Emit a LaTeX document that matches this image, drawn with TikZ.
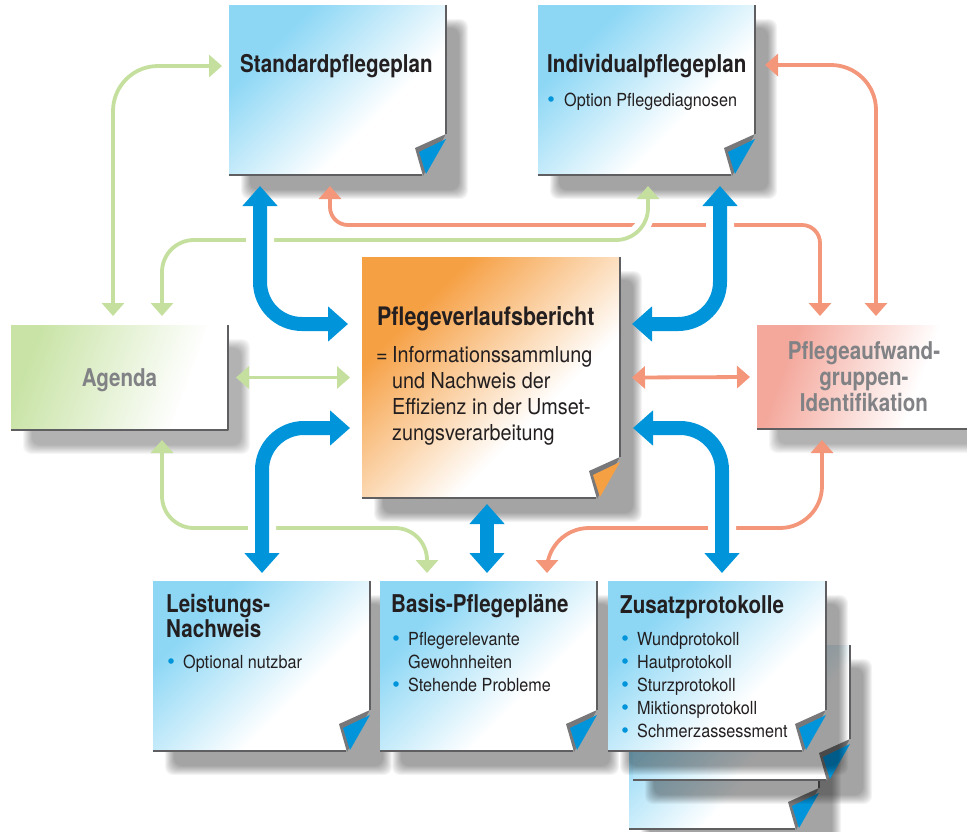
\documentclass[tikz,border=0pt]{standalone}
\usepackage{fontspec}
\setmainfont{TeX Gyre Heros}
\newfontfamily\titlefont{TeX Gyre Heros}[FakeStretch=0.84]
\newfontfamily\bodyfont{TeX Gyre Heros}[FakeStretch=0.9]
\usetikzlibrary{arrows.meta,calc}

\definecolor{arrowblue}{RGB}{0,149,218}
\definecolor{paperblue}{RGB}{141,215,245}
\definecolor{orangefill}{RGB}{246,160,68}
\definecolor{greenfill}{RGB}{200,227,165}
\definecolor{redfill}{RGB}{244,168,156}
\definecolor{greenline}{RGB}{197,224,158}
\definecolor{orangeline}{RGB}{243,150,122}
\definecolor{textgray}{RGB}{128,130,133}
\definecolor{textblack}{RGB}{35,31,32}
\definecolor{rimgray}{RGB}{95,95,97}
\definecolor{foldgray}{RGB}{120,120,122}

\pgfdeclarehorizontalshading{bluepaper}{100bp}{color(0bp)=(paperblue); color(30bp)=(paperblue); color(62bp)=(white); color(100bp)=(white)}
\pgfdeclarehorizontalshading{orangepaper}{100bp}{color(0bp)=(orangefill); color(30bp)=(orangefill); color(62bp)=(white); color(100bp)=(white)}
\pgfdeclarehorizontalshading{greenpaper}{100bp}{color(0bp)=(greenfill); color(25bp)=(greenfill); color(68bp)=(white); color(100bp)=(white)}
\pgfdeclarehorizontalshading{redpaper}{100bp}{color(0bp)=(redfill); color(28bp)=(redfill); color(62bp)=(white); color(100bp)=(white)}

% Blatt mit Schatten und Eselsohr
\newcommand\drawsheet[3]{%
  \foreach \s in {0,...,9}
    \fill[black, opacity=0.045, rounded corners=8] ($(#1.north west)+(12+\s,14+\s)$) rectangle ($(#1.south east)+(22-\s,24-\s)$);
  \shade[shading=#2, shading angle=-45] (#1.north west) -- (#1.north east) -- ($(#1.south east)+(0,-41)$) -- ($(#1.south east)+(-24,0)$) -- (#1.south west) -- cycle;
  \draw[rim] (#1.south west) -- ($(#1.south east)+(-24,0)$);
  \draw[rim] (#1.north east) -- ($(#1.south east)+(0,-41)$);
  \fill[foldgray] ($(#1.south east)+(0,-41)$) -- ($(#1.south east)+(-31,-27)$) -- ($(#1.south east)+(-23,1)$) -- cycle;
  \fill[#3] ($(#1.south east)+(0,-36)$) -- ($(#1.south east)+(-27,-23)$) -- ($(#1.south east)+(-20,-1)$) -- cycle;
}
% Kasten ohne Eselsohr
\newcommand\drawbanner[2]{%
  \foreach \s in {0,...,9}
    \fill[black, opacity=0.035, rounded corners=8] ($(#1.north west)+(12+\s,14+\s)$) rectangle ($(#1.south east)+(22-\s,24-\s)$);
  \shade[shading=#2, shading angle=-20] (#1.north west) rectangle (#1.south east);
  \draw[rim] (#1.south west) -- (#1.south east) -- (#1.north east);
}

\begin{document}
\begin{tikzpicture}[x=1pt, y=-1pt, line join=round, line cap=round,
  sheet/.style 2 args={minimum width=#1pt, minimum height=#2pt, inner sep=0pt, outer sep=0pt, anchor=north west},
  rim/.style={draw=rimgray, line width=2pt, line cap=butt},
  title/.style={font=\titlefont\bfseries\fontsize{24.5}{25}\selectfont, text=textblack, inner sep=0pt},
  body/.style={font=\bodyfont\fontsize{18}{23}\selectfont, text=textblack, inner sep=0pt},
  bigbody/.style={font=\bodyfont\fontsize{22}{26}\selectfont, text=textblack, inner sep=0pt},
  bluearrow/.style={draw=arrowblue, line width=14pt, rounded corners=42, >={Triangle[width=34pt,length=20pt]}, <->,
    preaction={draw=white, line width=28pt, -, line cap=butt, shorten <=22pt, shorten >=22pt}},
  greenarrow/.style={draw=greenline, line width=3.8pt, >={Triangle[width=22pt,length=13pt]}, <->},
  orangearrow/.style={draw=orangeline, line width=3.8pt, >={Triangle[width=22pt,length=13pt]}, <->},
  bullet/.style={fill=arrowblue}]
\useasboundingbox (0,0) rectangle (967,831);
\clip (0,0) rectangle (967,831);

% Kaesten
\node[sheet={217}{170}] (std) at (229,5) {};
\node[sheet={217}{170}] (ind) at (538,5) {};
\node[sheet={258}{241}] (pvb) at (362,257) {};
\node[sheet={217}{105}] (age) at (11,325) {};
\node[sheet={230}{104}] (pag) at (757,325) {};
\node[sheet={217}{170}] (lei) at (153,581) {};
\node[sheet={217}{170}] (bas) at (380,581) {};
\node[sheet={190}{170}] (zus3) at (629,659) {};
\node[sheet={217}{135}] (zus2) at (633,645) {};
\node[sheet={218}{170}] (zus) at (608,581) {};

\drawsheet{std}{bluepaper}{arrowblue}
\drawsheet{ind}{bluepaper}{arrowblue}
\drawsheet{pvb}{orangepaper}{orangefill}
\drawbanner{age}{greenpaper}
\drawbanner{pag}{redpaper}
\drawsheet{lei}{bluepaper}{arrowblue}
\drawsheet{bas}{bluepaper}{arrowblue}
\drawsheet{zus3}{bluepaper}{arrowblue}
\drawsheet{zus2}{bluepaper}{arrowblue}
\drawsheet{zus}{bluepaper}{arrowblue}

% Texte
\node[title, anchor=base west] (stdtitle) at (240,72.5) {Standardpflegeplan};
\node[title, anchor=base west] (indtitle) at (547,72.5) {Individualpflegeplan};
\fill[bullet] (551,99) circle (2.8);
\node[body, anchor=base west] (inditem) at (564,106) {Option Pflegediagnosen};

\node[title, anchor=base west, font=\titlefont\bfseries\fontsize{25.5}{26}\selectfont] (pvbtitle) at (377,325) {Pflegeverlaufsbericht};
\node[bigbody, anchor=base west] (pvbeq) at (376,362) {=};
\foreach \txt [count=\i] in {Informationssammlung,und Nachweis der,Effizienz in der Umset-,zungsverarbeitung}
  \node[bigbody, anchor=base west] (pvbline\i) at (392,{362+26*(\i-1)}) {\txt};

\node[title, text=textgray, anchor=base] (agetitle) at (119.5,386) {Agenda};
\node[title, text=textgray, align=center, font=\titlefont\bfseries\fontsize{24.5}{26}\selectfont] (pagtitle) at (864,377) {Pflegeaufwand-\\gruppen-\\Identifikation};

\node[title, anchor=base west, align=left] (leititle) at (166,637) {Leistungs-\\Nachweis};
\fill[bullet] (171,661) circle (2.8);
\node[body, anchor=base west] (leiitem) at (183,668) {Optional nutzbar};

\node[title, anchor=base west] (bastitle) at (391,612) {Basis-Pflegepläne};
\fill[bullet] (396,638) circle (2.8);
\node[body, anchor=base west] (basitem1) at (408,645) {Pflegerelevante};
\node[body, anchor=base west] (basitem2) at (408,668) {Gewohnheiten};
\fill[bullet] (396,684) circle (2.8);
\node[body, anchor=base west] (basitem3) at (408,691) {Stehende Probleme};

\node[title, anchor=base west] (zustitle) at (620,613) {Zusatzprotokolle};
\foreach \txt [count=\i] in {Wundprotokoll,Hautprotokoll,Sturzprotokoll,Miktionsprotokoll,Schmerzassessment}{
  \fill[bullet] (625,{638+23*(\i-1)}) circle (2.8);
  \node[body, anchor=base west] (zusitem\i) at (637,{645+23*(\i-1)}) {\txt};
}

% orange Verbindungen
\draw[orangearrow, rounded corners=45] ($(ind.north east)+(10,60)$) -| ($(pag.north west)+(119,-9)$);
\draw[orangearrow] ($(std.south west)+(101,11)$) [rounded corners=18] |- ($(pag.north west)+(63,-100)$) [rounded corners=45] -- ($(pag.north west)+(63,-9)$);
\draw[orangearrow] ($(pvb.east)+(12,0)$) -- ($(pag.west)+(-7,0)$);
\draw[orangearrow] ($(pag.south west)+(65,11)$) [rounded corners=42] |- ($(bas.north west)+(167,-53)$) [rounded corners=20] -- ($(bas.north west)+(167,-8)$);

% gruene Verbindungen
\draw[greenarrow, rounded corners=45] ($(std.north west)+(-7,61)$) -| ($(age.north west)+(102,-9)$);
\draw[greenarrow, preaction={draw=white, line width=15pt, -, line cap=butt, shorten <=20pt, shorten >=20pt}] ($(age.north west)+(151,-9)$) [rounded corners=32] |- ($(ind.south west)+(110,65)$) [rounded corners=20] -- ($(ind.south west)+(110,11)$);
\draw[greenarrow] ($(age.east)+(8,0)$) -- ($(pvb.west)+(-12,0)$);
\draw[greenarrow] ($(age.south west)+(151,10)$) [rounded corners=32] |- ($(bas.north west)+(47,-53)$) [rounded corners=20] -- ($(bas.north west)+(47,-8)$);

% blaue Verbindungen
\draw[bluearrow] ($(std.south west)+(31,11)$) |- ($(pvb.north west)+(-14,67)$);
\draw[bluearrow] ($(ind.south west)+(182,11)$) |- ($(pvb.north east)+(12,67)$);
\draw[bluearrow] ($(lei.north west)+(109,-8)$) |- ($(pvb.north west)+(-12,171)$);
\draw[bluearrow] ($(zus.north west)+(114,-8)$) |- ($(pvb.north east)+(13,171)$);
\draw[bluearrow] ($(pvb.south west)+(125,6)$) -- ($(bas.north west)+(107,-8)$);
\end{tikzpicture}
\end{document}
